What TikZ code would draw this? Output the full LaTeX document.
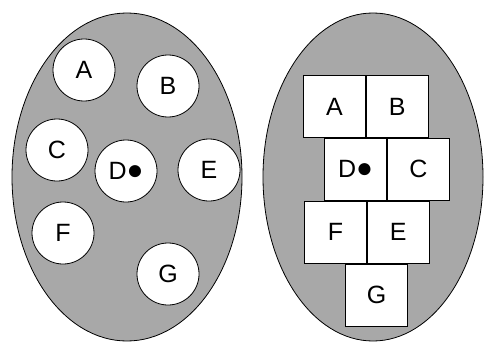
\documentclass[tikz,border=0pt]{standalone}
\usepackage{fontspec}
\setmainfont{Liberation Sans}
\usetikzlibrary{
positioning,
shapes
}
\tikzset{>=latex}
\tikzset{
	region/.style={draw, line width=.8pt, fill=black!34},
	disc/.style={circle, draw, line width=.8pt, fill=white, minimum size=62pt, inner sep=0pt},
	tile/.style={rectangle, draw, line width=.8pt, fill=white, minimum width=62pt, minimum height=62pt, inner sep=0pt}
}
\newcommand{\dotted}{D{\fontsize{28}{28}\selectfont ●}}

\begin{document}
\begin{tikzpicture}[x=1pt, y=-1pt, font=\fontsize{25}{27}\selectfont]
		\useasboundingbox (0,0) rectangle (484,345);
		\draw[region] (127,177) ellipse [x radius=115, y radius=164];
		\draw[region] (373,177) ellipse [x radius=110, y radius=164];

		\node[disc] (ca) at (84,70)   {A};
		\node[disc] (cb) at (168,86)  {B};
		\node[disc] (cc) at (57,150)  {C};
		\node[disc] (cd) at (126,171) {\dotted};
		\node[disc] (ce) at (209,170) {E};
		\node[disc] (cf) at (63,233)  {F};
		\node[disc] (cg) at (168,274) {G};

		\node[tile] (sa) at (334.5,106.5)           {A};
		\node[tile, right=0pt of sa]                 (sb) {B};
		\node[tile, below=0pt of sa, xshift=21pt]    (sd) {\dotted};
		\node[tile, right=0pt of sd]                 (sc) {C};
		\node[tile, below=0pt of sd, xshift=-20pt]   (sf) {F};
		\node[tile, right=0pt of sf]                 (se) {E};
		\node[tile, below=0pt of sf, xshift=41pt]    (sg) {G};
	\end{tikzpicture}
\end{document}
